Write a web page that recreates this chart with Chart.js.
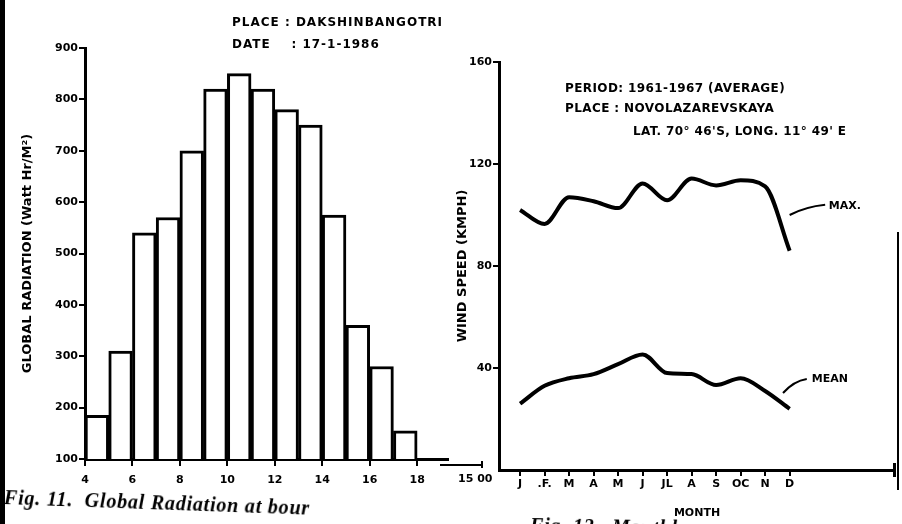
<!DOCTYPE html>
<html>
<head>
<meta charset="utf-8">
<script src="https://cdn.jsdelivr.net/npm/chart.js@4.4.1/dist/chart.umd.min.js"></script>
<style>
  body { margin: 0; width: 902px; height: 524px; overflow: hidden; background: #fff; position: relative; font-family: 'DejaVu Sans', sans-serif; }
  canvas { position: absolute; top: 0; }
  .t { position: absolute; font-weight: bold; font-size: 12px; white-space: pre; color: #000; line-height: 1; }
  .cap { position: absolute; font-family: 'Liberation Serif', serif; font-style: italic; font-weight: bold; font-size: 20px; letter-spacing: 0.8px; white-space: pre; transform-origin: left center; }
  .bar { position: absolute; background: #000; }
</style>
</head>
<body>
<div class="bar" style="left:0;top:0;width:5px;height:524px"></div>
<canvas id="radiation" width="460" height="524" style="left:0"></canvas>
<canvas id="wind" width="462" height="524" style="left:440px"></canvas>

<div class="t" style="left:232px;top:16px;letter-spacing:1px">PLACE : DAKSHINBANGOTRI</div>
<div class="t" style="left:232px;top:38px;letter-spacing:1px">DATE    : 17-1-1986</div>
<div class="t" style="left:565px;top:82px;letter-spacing:0.4px">PERIOD: 1961-1967 (AVERAGE)</div>
<div class="t" style="left:565px;top:102px;letter-spacing:0.4px">PLACE : NOVOLAZAREVSKAYA</div>
<div class="t" style="left:633px;top:125px;letter-spacing:0.4px">LAT. 70° 46'S, LONG. 11° 49' E</div>
<div class="t" style="left:458px;top:473px;font-size:11px">15 00</div>
<div class="bar" style="left:440px;top:464px;width:42px;height:2px"></div>
<div class="bar" style="left:481px;top:461px;width:2px;height:7px"></div>
<div class="bar" style="left:893px;top:463px;width:3px;height:14px"></div>
<div class="bar" style="left:897px;top:232px;width:2px;height:258px"></div>

<div class="cap" style="left:4px;top:486px;transform:rotate(2deg)">Fig. 11.  Global Radiation at bour</div>
<div class="cap" style="left:530px;top:514px;transform:rotate(1deg)">Fig. 12.  Monthly</div>

<script>
// left: global radiation per hour (bar starts at the hour)
const hours = [4, 5, 6, 7, 8, 9, 10, 11, 12, 13, 14, 15, 16, 17]
const radiation = [185, 310, 540, 570, 700, 820, 850, 820, 780, 750, 575, 360, 280, 155]
const hourTicks = [4, 6, 8, 10, 12, 14, 16, 18]
const radiationTicks = [100, 200, 300, 400, 500, 600, 700, 800, 900]

// right: wind speed per month
const months = [1, 2, 3, 4, 5, 6, 7, 8, 9, 10, 11, 12]
const monthLabels = ['J', '.F.', 'M', 'A', 'M', 'J', 'JL', 'A', 'S', 'OC', 'N', 'D']
const windMax = [102, 96.5, 107, 105.4, 102.7, 112.4, 105.8, 114.3, 111.6, 113.6, 111.2, 86]
const windMean = [26, 33, 36, 37.6, 41.5, 45.3, 38, 37.6, 33.3, 36, 31, 24]
const windTicks = [40, 80, 120, 160]
const curveLabels = ['MAX.', 'MEAN']

const black = '#000'
const tickFont = {family: 'DejaVu Sans', weight: 'bold', size: 11}

Chart.defaults.font.family = 'DejaVu Sans'
Chart.defaults.color = black

new Chart(document.getElementById('radiation'), {
    type: 'bar',
    data: {
        datasets: [{
            data: hours.map((h, i) => ({x: h + 0.5, y: radiation[i]})),
            backgroundColor: '#fff',
            borderColor: black,
            borderWidth: 3,
            barPercentage: 1,
            categoryPercentage: 1,
        }]
    },
    options: {
        responsive: false,
        animation: false,
        layout: {padding: {top: 48, right: 12, left: 0, bottom: 0}},
        plugins: {legend: {display: false}, tooltip: {enabled: false}},
        scales: {
            x: {
                type: 'linear',
                min: 4,
                max: 19.3,
                offset: false,
                afterBuildTicks: s => { s.ticks = hourTicks.map(v => ({value: v})) },
                afterFit: s => { s.height = 65 },
                ticks: {font: tickFont, color: black, padding: 8},
                grid: {offset: false, drawOnChartArea: false, color: black, lineWidth: 2, tickLength: 7},
                border: {color: black, width: 3},
            },
            y: {
                min: 100,
                max: 900,
                afterBuildTicks: s => { s.ticks = radiationTicks.map(v => ({value: v})) },
                afterFit: s => { s.width = 85 },
                ticks: {font: tickFont, color: black, padding: 1},
                grid: {drawOnChartArea: false, color: black, lineWidth: 2, tickLength: 6},
                border: {color: black, width: 3},
                title: {
                    display: true,
                    text: 'GLOBAL RADIATION (Watt Hr/M²)',
                    font: {family: 'DejaVu Sans', weight: 'bold', size: 13},
                    color: black,
                    padding: {top: 20, bottom: 0},
                }
            }
        }
    }
})

// leader lines + names next to the wind curves
const curveNames = {
    id: 'curveNames',
    afterDatasetsDraw(chart) {
        const {ctx, scales: {x, y}} = chart
        const leaders = [
            {from: [12.0, 100], to: [13.45, 104], text: [13.6, 103.5]},
            {from: [11.73, 30.2], to: [12.7, 35.7], text: [12.9, 35.7]},
        ]
        ctx.save()
        ctx.strokeStyle = black
        ctx.fillStyle = black
        ctx.lineWidth = 2
        ctx.font = 'bold 11px "DejaVu Sans"'
        ctx.textBaseline = 'middle'
        leaders.forEach((l, i) => {
            const x0 = x.getPixelForValue(l.from[0]), y0 = y.getPixelForValue(l.from[1])
            const x1 = x.getPixelForValue(l.to[0]), y1 = y.getPixelForValue(l.to[1])
            ctx.beginPath()
            ctx.moveTo(x0, y0)
            ctx.quadraticCurveTo(x0 + (x1 - x0) * 0.45, y1 + 2, x1, y1)
            ctx.stroke()
            ctx.fillText(curveLabels[i], x.getPixelForValue(l.text[0]), y.getPixelForValue(l.text[1]))
        })
        ctx.restore()
    }
}

const lineStyle = {
    borderColor: black,
    borderWidth: 4,
    pointRadius: 0,
    cubicInterpolationMode: 'monotone',
    fill: false,
}

new Chart(document.getElementById('wind'), {
    type: 'line',
    data: {
        datasets: [
            {label: curveLabels[0], data: months.map((m, i) => ({x: m, y: windMax[i]})), ...lineStyle},
            {label: curveLabels[1], data: months.map((m, i) => ({x: m, y: windMean[i]})), ...lineStyle},
        ]
    },
    options: {
        responsive: false,
        animation: false,
        layout: {padding: {top: 62, right: 7, left: 0, bottom: 0}},
        plugins: {legend: {display: false}, tooltip: {enabled: false}},
        scales: {
            x: {
                type: 'linear',
                min: 0.14,
                max: 16.3,
                afterBuildTicks: s => { s.ticks = months.map(v => ({value: v})) },
                afterFit: s => { s.height = 54 },
                ticks: {font: tickFont, color: black, padding: 2, callback: v => monthLabels[v - 1]},
                grid: {drawOnChartArea: false, color: black, lineWidth: 2, tickLength: 6},
                border: {color: black, width: 3},
                title: {
                    display: true,
                    text: 'MONTH',
                    font: {family: 'DejaVu Sans', weight: 'bold', size: 11},
                    color: black,
                    padding: {top: 0, bottom: 4},
                }
            },
            y: {
                min: 0,
                max: 160,
                afterBuildTicks: s => { s.ticks = windTicks.map(v => ({value: v})) },
                afterFit: s => { s.width = 59 },
                ticks: {font: tickFont, color: black, padding: 1},
                grid: {drawOnChartArea: false, color: black, lineWidth: 2, tickLength: 6},
                border: {color: black, width: 3},
                title: {
                    display: true,
                    text: 'WIND SPEED (KMPH)',
                    font: {family: 'DejaVu Sans', weight: 'bold', size: 13},
                    color: black,
                    padding: {top: 15, bottom: 0},
                }
            }
        }
    },
    plugins: [curveNames]
})
</script>
</body>
</html>
